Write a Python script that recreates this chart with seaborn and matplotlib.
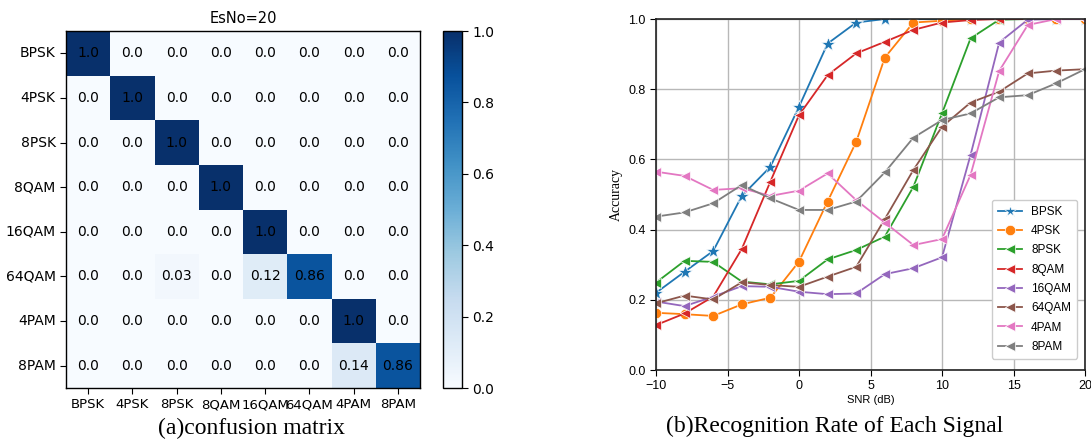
import numpy as np
import pandas as pd
import matplotlib
matplotlib.use("Agg")
import matplotlib.pyplot as plt
from matplotlib import font_manager
import seaborn as sns

# ---------------- data ----------------
classes = ["BPSK", "4PSK", "8PSK", "8QAM", "16QAM", "64QAM", "4PAM", "8PAM"]
cm_bpsk = [1.0, 0, 0, 0, 0, 0, 0, 0]
cm_4psk = [0, 1.0, 0, 0, 0, 0, 0, 0]
cm_8psk = [0, 0, 1.0, 0, 0, 0, 0, 0]
cm_8qam = [0, 0, 0, 1.0, 0, 0, 0, 0]
cm_16qam = [0, 0, 0, 0, 1.0, 0, 0, 0]
cm_64qam = [0, 0, 0.03, 0, 0.12, 0.86, 0, 0]
cm_4pam = [0, 0, 0, 0, 0, 0, 1.0, 0]
cm_8pam = [0, 0, 0, 0, 0, 0, 0.14, 0.86]

snr = [-10, -8, -6, -4, -2, 0, 2, 4, 6, 8, 10, 12, 14, 16, 18, 20]
acc_bpsk = [0.22, 0.28, 0.339, 0.496, 0.579, 0.750, 0.930, 0.990, 1.0, 1.0, 1.0, 1.0, 1.0, 1.0, 1.0, 1.0]
acc_4psk = [0.163, 0.159, 0.154, 0.187, 0.206, 0.309, 0.480, 0.650, 0.890, 0.990, 0.995, 1.0, 1.0, 1.0, 1.0, 1.0]
acc_8psk = [0.249, 0.311, 0.308, 0.252, 0.244, 0.254, 0.315, 0.342, 0.380, 0.522, 0.731, 0.945, 0.998, 1.0, 1.0, 1.0]
acc_8qam = [0.128, 0.161, 0.209, 0.345, 0.537, 0.726, 0.840, 0.902, 0.935, 0.969, 0.990, 0.997, 1.0, 1.0, 1.0, 1.0]
acc_16qam = [0.195, 0.182, 0.209, 0.239, 0.237, 0.223, 0.216, 0.218, 0.273, 0.290, 0.321, 0.613, 0.933, 0.998, 1.0, 1.0]
acc_64qam = [0.190, 0.212, 0.201, 0.250, 0.242, 0.237, 0.266, 0.294, 0.430, 0.570, 0.693, 0.762, 0.793, 0.845, 0.853, 0.857]
acc_4pam = [0.565, 0.553, 0.513, 0.518, 0.496, 0.511, 0.560, 0.484, 0.420, 0.356, 0.373, 0.556, 0.852, 0.983, 1.0, 1.0]
acc_8pam = [0.437, 0.449, 0.475, 0.527, 0.489, 0.456, 0.456, 0.480, 0.563, 0.662, 0.712, 0.731, 0.777, 0.783, 0.817, 0.857]

markers = ["*", "o", "<", "<", "<", "<", "<", "<"]

# ---------------- fonts ----------------
avail = {f.name for f in font_manager.fontManager.ttflist}
narrow = "Liberation Sans Narrow" if "Liberation Sans Narrow" in avail else "Liberation Sans"
serif = "Liberation Serif"
plt.rcParams["font.family"] = ["DejaVu Sans"]

W, H = 1091, 444
fig = plt.figure(figsize=(W / 100, H / 100), dpi=100)

def box(l, t, r, b):
    return [l / W, 1 - b / H, (r - l) / W, (b - t) / H]

# ---------------- confusion matrix ----------------
cm = np.array([cm_bpsk, cm_4psk, cm_8psk, cm_8qam, cm_16qam, cm_64qam, cm_4pam, cm_8pam])
annot = np.array([[f"{v:.1f}" if v in (0, 1) else f"{v:.2f}" for v in row] for row in cm])

ax1 = fig.add_axes(box(66, 31, 420, 388))
cax = fig.add_axes(box(443, 31, 462, 388))
sns.heatmap(cm, ax=ax1, cbar_ax=cax, cmap="Blues", vmin=0, vmax=1,
            annot=annot, fmt="", annot_kws={"color": "black", "fontsize": 10},
            xticklabels=classes, yticklabels=classes, linewidths=0)
for s in ax1.spines.values():
    s.set_visible(True)
    s.set_linewidth(1.0)
    s.set_color("black")
ax1.set_title("EsNo=20", fontsize=10.5, pad=6)
ax1.tick_params(axis="both", length=4, width=0.8, colors="black")
ax1.set_xticklabels(classes, rotation=0, fontsize=9.5)
ax1.set_yticklabels(classes, rotation=0, fontsize=10)
cbar = ax1.collections[0].colorbar
cbar.set_ticks([0.0, 0.2, 0.4, 0.6, 0.8, 1.0])
cbar.ax.tick_params(labelsize=10, length=4)
cbar.outline.set_visible(True)
cbar.outline.set_edgecolor("black")
cbar.outline.set_linewidth(1.0)

# ---------------- accuracy curves ----------------
rows = []
series = [acc_bpsk, acc_4psk, acc_8psk, acc_8qam, acc_16qam, acc_64qam, acc_4pam, acc_8pam]
for name, vals in zip(classes, series):
    for s_, v in zip(snr, vals):
        rows.append({"SNR": s_, "Accuracy": v, "Signal": name})
df = pd.DataFrame(rows)

ax2 = fig.add_axes(box(656, 19, 1085, 370))
palette = sns.color_palette("tab10", 8)
sns.lineplot(data=df, x="SNR", y="Accuracy", hue="Signal", style="Signal",
             hue_order=classes, style_order=classes, palette=palette,
             markers=dict(zip(classes, markers)), dashes=False,
             markersize=7.5, markeredgewidth=0.5, linewidth=1.3, ax=ax2)
ax2.lines[0].set_markersize(10)
ax2.set_xlim(-10, 20)
ax2.set_ylim(0, 1)
ax2.set_xticks([-10, -5, 0, 5, 10, 15, 20])
ax2.set_yticks([0.0, 0.2, 0.4, 0.6, 0.8, 1.0])
ax2.grid(True, color="#b8b8b8", linewidth=1.0)
ax2.set_axisbelow(True)
for s in ax2.spines.values():
    s.set_visible(True)
    s.set_color("#222222")
    s.set_linewidth(1.2)
ax2.tick_params(axis="both", length=4, width=0.8)
for lab in ax2.get_xticklabels() + ax2.get_yticklabels():
    lab.set_fontfamily(narrow)
    lab.set_fontsize(9)
ax2.set_xlabel("SNR (dB)", fontfamily=narrow, fontsize=8, labelpad=2)
ax2.set_ylabel("Accuracy", fontfamily=serif, fontsize=10, labelpad=4)
leg = ax2.legend(loc="lower right", prop={"family": narrow, "size": 8.5},
                 frameon=True, fancybox=True, framealpha=1.0, edgecolor="#cccccc",
                 borderpad=0.5, labelspacing=0.62, handlelength=2.0,
                 bbox_to_anchor=(0.995, 0.015))
for i, h in enumerate(leg.legend_handles):
    h.set_markersize(9 if i == 0 else 7.5)

# ---------------- captions ----------------
fig.text(252 / W, 1 - 428 / H, "(a)confusion matrix", ha="center", va="center",
         fontfamily=serif, fontsize=17)
fig.text(835 / W, 1 - 426 / H, "(b)Recognition Rate of Each Signal", ha="center", va="center",
         fontfamily=serif, fontsize=17)

fig.savefig("out.png", dpi=100, facecolor="white")
